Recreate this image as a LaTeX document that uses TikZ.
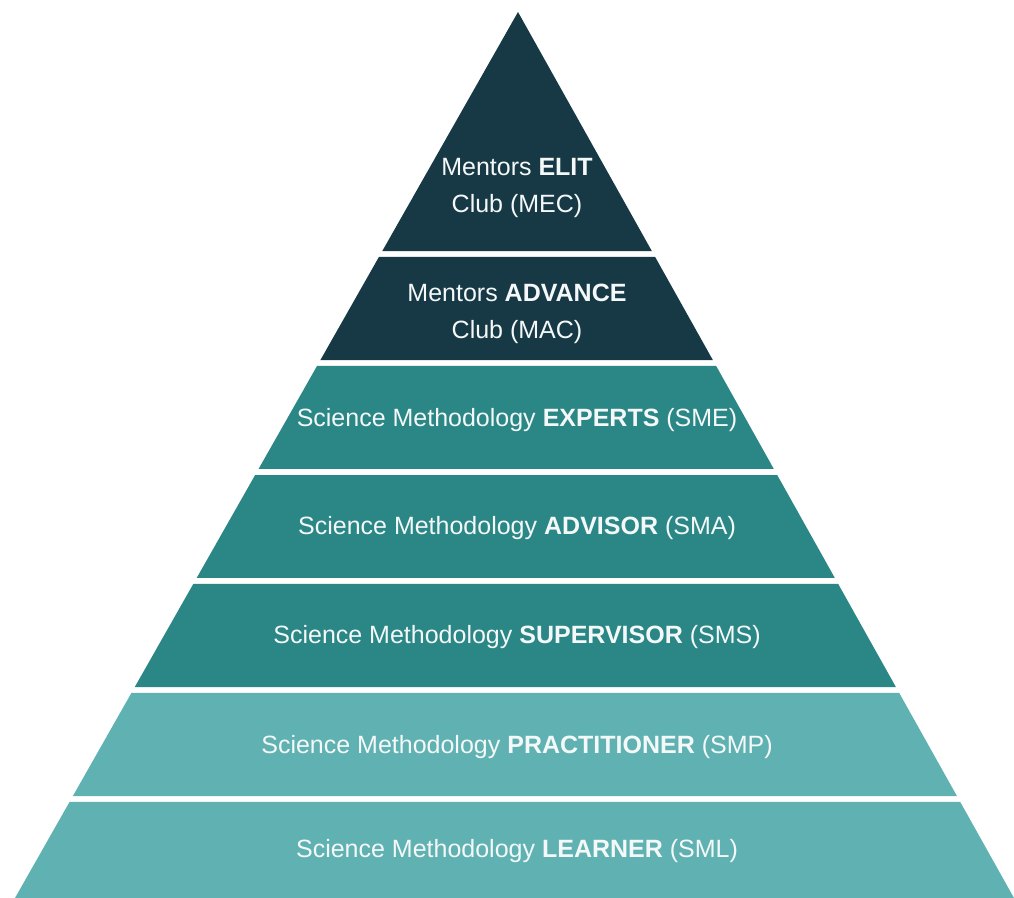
\documentclass[tikz,border=0pt]{standalone}
\usepackage{fontspec}
\setmainfont{Liberation Sans}
\usetikzlibrary{calc}
\definecolor{levelDark}{HTML}{173945}
\definecolor{levelMid}{HTML}{2A8786}
\definecolor{levelLight}{HTML}{60B2B2}
\definecolor{levelText}{HTML}{F4F8F8}
\tikzset{
  darkBand/.style={fill=levelDark},
  midBand/.style={fill=levelMid},
  lightBand/.style={fill=levelLight},
  levelLabel/.style={
    text=levelText,
    align=center,
    font=\fontsize{12.5}{18.5}\selectfont,
    inner sep=0pt
  }
}

\begin{document}
\begin{tikzpicture}[x=0.5pt,y=0.5pt]
  \useasboundingbox (0,0) rectangle (1014,898);
  \coordinate (apex) at (518,886);
  \coordinate (baseL) at (15,0);
  \coordinate (baseR) at (1014,0);

  % top two levels
  \fill[darkBand] (apex) -- ($(apex)!0.2698!(baseR)$) -- ($(apex)!0.2698!(baseL)$) -- cycle;
  \fill[darkBand] ($(apex)!0.2765!(baseL)$) -- ($(apex)!0.2765!(baseR)$)
    -- ($(apex)!0.3928!(baseR)$) -- ($(apex)!0.3928!(baseL)$) -- cycle;

  % middle levels
  \fill[midBand] ($(apex)!0.3995!(baseL)$) -- ($(apex)!0.3995!(baseR)$)
    -- ($(apex)!0.5158!(baseR)$) -- ($(apex)!0.5158!(baseL)$) -- cycle;
  \fill[midBand] ($(apex)!0.5226!(baseL)$) -- ($(apex)!0.5226!(baseR)$)
    -- ($(apex)!0.6388!(baseR)$) -- ($(apex)!0.6388!(baseL)$) -- cycle;
  \fill[midBand] ($(apex)!0.6456!(baseL)$) -- ($(apex)!0.6456!(baseR)$)
    -- ($(apex)!0.7619!(baseR)$) -- ($(apex)!0.7619!(baseL)$) -- cycle;

  % bottom levels
  \fill[lightBand] ($(apex)!0.7686!(baseL)$) -- ($(apex)!0.7686!(baseR)$)
    -- ($(apex)!0.8849!(baseR)$) -- ($(apex)!0.8849!(baseL)$) -- cycle;
  \fill[lightBand] ($(apex)!0.8916!(baseL)$) -- ($(apex)!0.8916!(baseR)$)
    -- (baseR) -- (baseL) -- cycle;

  \node[levelLabel] (mec) at (517,710) {Mentors \textbf{ELIT}\\Club (MEC)};
  \node[levelLabel] (mac) at (517,584.5) {Mentors \textbf{ADVANCE}\\Club (MAC)};
  \node[levelLabel] (sme) at (517,478) {Science Methodology \textbf{EXPERTS} (SME)};
  \node[levelLabel] (sma) at (517,370) {Science Methodology \textbf{ADVISOR} (SMA)};
  \node[levelLabel] (sms) at (517,261) {Science Methodology \textbf{SUPERVISOR} (SMS)};
  \node[levelLabel] (smp) at (517,151) {Science Methodology \textbf{PRACTITIONER} (SMP)};
  \node[levelLabel] (sml) at (517,47) {Science Methodology \textbf{LEARNER} (SML)};
\end{tikzpicture}
\end{document}
